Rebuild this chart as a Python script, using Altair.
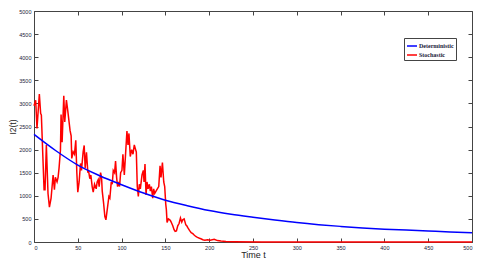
import altair as alt
import pandas as pd

# Deterministic solution (read every 25 time units)
det_t = [0, 25, 50, 75, 100, 125, 150, 175, 200, 225, 250, 275, 300, 325, 350, 375, 400, 425, 450, 475, 500]
det_v = [2330, 1975, 1665, 1435, 1240, 1060, 905, 785, 680, 600, 535, 475, 420, 375, 338, 305, 278, 258, 238, 218, 200]

# Stochastic path
sto_t = [0, 1.9, 3.4, 6.1, 7.6, 8.4, 11.5, 12.6, 14.1, 16.0, 17.6, 19.5, 21.8, 23.3, 24.4, 26.3, 27.5, 28.6,
         30.2, 30.9, 32.1, 34.0, 35.1, 37.0, 38.5, 41.2, 42.4, 43.1, 44.7, 46.2, 47.7, 48.9, 50.0, 51.5, 53.1,
         54.2, 56.1, 57.3, 58.4, 59.9, 61.5, 62.2, 63.7, 64.9, 66.4, 67.6, 69.1, 71.0, 72.1, 73.3, 74.4, 76.0,
         77.1, 77.9, 79.4, 80.9, 82.1, 83.6, 85.5, 86.6, 88.2, 89.3, 90.5, 92.0, 93.1, 94.3, 95.4, 96.6, 97.7,
         98.9, 100.4, 101.5, 103.1, 104.2, 106.1, 107.3, 108.4, 109.9, 111.5, 113.0, 114.5, 116.0, 116.8,
         117.9, 119.1, 120.2, 121.4, 123.3, 124.8, 125.6, 126.7, 127.9, 129.0, 130.2, 131.7, 132.8, 134.0,
         135.5, 136.6, 137.8, 139.3, 140.8, 142.4, 143.9, 145.0, 146.6, 148.1, 149.2, 150.4, 151.1, 151.9,
         153.4, 155.0, 156.1, 157.3, 158.4, 159.9, 161.1, 162.6, 164.1, 165.6, 167.2, 168.7, 169.8, 171.4,
         173.3, 174.4, 175.9, 177.5, 179.4, 181.3, 182.8, 184.7, 186.6, 188.9, 190.5, 192.7, 195.0, 198.1,
         201.1, 205.7, 209.5, 213.4, 219.1, 228.6, 260, 300, 350, 400, 450, 500]
sto_v = [2950, 3070, 2460, 3200, 2780, 2750, 1130, 1130, 2100, 1050, 755, 950, 1450, 1130, 1400, 1300, 1400, 1600,
         1990, 2760, 2160, 3165, 2600, 3070, 2850, 2410, 2300, 1810, 1950, 1900, 2200, 1500, 1080, 1300, 1700,
         1550, 1950, 2090, 1600, 1940, 1500, 1550, 1370, 1450, 1200, 1080, 1250, 1150, 1300, 1350, 1200, 1500,
         1400, 1100, 850, 550, 480, 700, 985, 950, 1300, 1250, 1550, 1500, 1750, 1400, 1200, 1300, 1200,
         1500, 1550, 1900, 1450, 1800, 2400, 2100, 2350, 1850, 2000, 1900, 2100, 2000, 1950,
         1200, 985, 1250, 1150, 1450, 1550, 1300, 1690, 1020, 1300, 1150, 1250, 1100, 1200,
         950, 1150, 1050, 1100, 1150, 1200, 1650, 1400, 1720, 1300, 1200, 820, 700, 424,
         500, 480, 450, 400, 350, 266, 230, 240, 350, 400, 518, 430, 480, 500,
         370, 350, 300, 250, 200, 180, 150, 120, 100, 80, 70, 50, 40, 50,
         40, 60, 30, 20, 10, 5, 0, 0, 0, 0, 0, 0]

series_names = ["Deterministic", "Stochastic"]
series_colors = ["#0000ff", "#ff0000"]

det_df = pd.DataFrame({"t": det_t, "v": det_v, "series": series_names[0]})
sto_df = pd.DataFrame({"t": sto_t, "v": sto_v, "series": series_names[1]})

x_ticks = list(range(0, 501, 50))
y_ticks = list(range(0, 5001, 500))

xscale = alt.Scale(domain=[0, 500], nice=False)
yscale = alt.Scale(domain=[0, 5000], nice=False)
cscale = alt.Scale(domain=series_names, range=series_colors)

lbl = dict(labelFont="Liberation Sans", labelFontSize=5.5, labelColor="#1a1a3a", format="d",
           tickColor="#444444", tickSize=4, tickWidth=1, domain=False, grid=False,
           offset=-4)

red = alt.Chart(sto_df).mark_line(strokeWidth=1.5).encode(
    x=alt.X("t:Q", scale=xscale,
            axis=alt.Axis(orient="bottom", values=x_ticks, title="Time t", labelPadding=3,
                          titleFont="Liberation Sans", titleFontSize=9, titleFontWeight="normal",
                          titlePadding=0, titleColor="#222222", **lbl)),
    y=alt.Y("v:Q", scale=yscale,
            axis=alt.Axis(orient="left", values=y_ticks, title="I2(t)", labelPadding=3,
                          titleFont="Liberation Sans", titleFontSize=8.5, titleFontWeight="normal",
                          titlePadding=1.5, titleColor="#222222", **lbl)),
    color=alt.Color("series:N", scale=cscale,
                    legend=alt.Legend(title=None, orient="none", legendX=370, legendY=27,
                                      symbolType="stroke", symbolSize=100, symbolStrokeWidth=1.5,
                                      labelFont="Liberation Serif", labelFontSize=6,
                                      labelFontWeight="bold", labelColor="#1a1a3a",
                                      strokeColor="#444444", padding=2, rowPadding=0,
                                      labelOffset=1, fillColor="white")),
)

blue = alt.Chart(det_df).mark_line(strokeWidth=1.5, interpolate="monotone").encode(
    x=alt.X("t:Q", scale=xscale,
            axis=alt.Axis(orient="top", values=x_ticks, title=None, labels=False, **lbl)),
    y=alt.Y("v:Q", scale=yscale,
            axis=alt.Axis(orient="right", values=y_ticks, title=None, labels=False, **lbl)),
    color=alt.Color("series:N", scale=cscale),
)

chart = alt.layer(red, blue).resolve_axis(x="independent", y="independent").properties(
    width=438, height=231,
    autosize=alt.AutoSizeParams(type="none"),
    padding={"left": 26, "top": 3, "right": 8, "bottom": 17},
    background="white",
).configure_view(stroke="#444444", strokeWidth=1)

chart.save("out.html", embed_options={"renderer": "svg", "actions": False})
